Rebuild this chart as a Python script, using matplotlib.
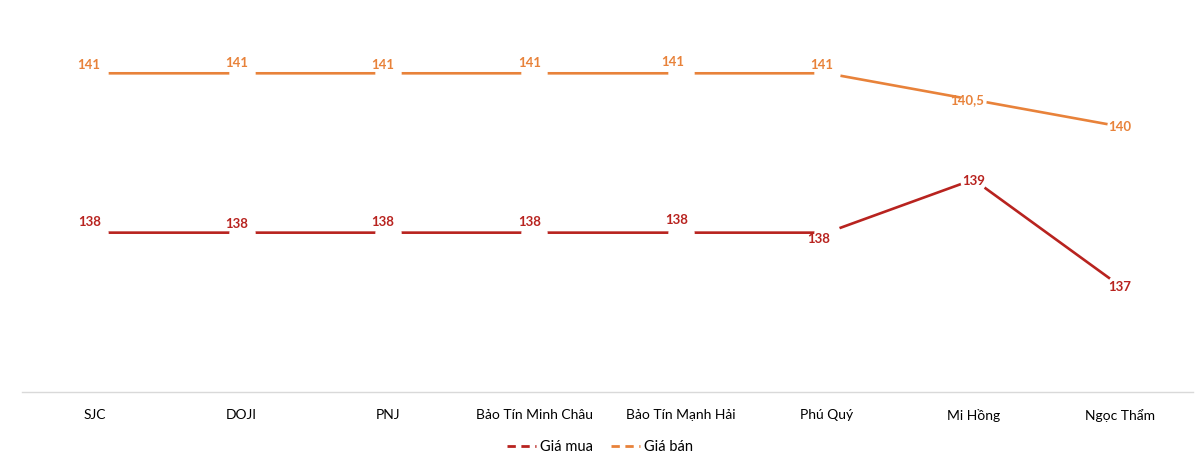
import numpy as np
import matplotlib.pyplot as plt

plt.rcParams['font.family'] = ['Lato', 'Noto Sans', 'DejaVu Sans']

# số liệu
categories = ["SJC", "DOJI", "PNJ", "Bảo Tín Minh Châu", "Bảo Tín Mạnh Hải",
              "Phú Quý", "Mi Hồng", "Ngọc Thẩm"]
gia_mua = [138, 138, 138, 138, 138, 138, 139, 137]
gia_ban = [141, 141, 141, 141, 141, 141, 140.5, 140]
label_mua = ["138", "138", "138", "138", "138", "138", "139", "137"]
label_ban = ["141", "141", "141", "141", "141", "141", "140,5", "140"]

# vị trí nhãn (điểm ảnh, lệch so với điểm)
off_mua = [(-6, 11), (-5, 9), (-5, 11), (-5, 11), (-4, 13), (-8, -6), (0, -1), (0, -1)]
off_ban = [(-6, 8), (-5, 10), (-5, 8), (-5, 10), (-8, 11), (-5, 8), (-6, 0), (0, -1)]

c_mua = "#B8231F"
c_ban = "#E8823A"

fig = plt.figure(figsize=(12, 4.61), dpi=100)
ax = fig.add_axes([22 / 1200, 69 / 461, 1171 / 1200, 392 / 461])

x = np.arange(len(categories))

for vals, labs, offs, col, name in [(gia_mua, label_mua, off_mua, c_mua, "Giá mua"),
                                    (gia_ban, label_ban, off_ban, c_ban, "Giá bán")]:
    ax.plot(x, vals, color=col, lw=1.9, zorder=2, solid_capstyle="butt")
    # marker trắng che đường như Excel
    ax.plot(x, vals, ls="none", marker="o", ms=19, mfc="white", mec="none", zorder=3)
    for xi, v, t, (dx, dy) in zip(x, vals, labs, offs):
        ax.annotate(t, (xi, v), xytext=(dx * 0.72, dy * 0.72), textcoords="offset points",
                    ha="center", va="center", fontsize=9.5, fontweight="bold",
                    color=col, zorder=4)
    ax.plot([], [], color=col, lw=2, ls=(0, (3, 2)), label=name)

ax.set_xlim(-0.5, len(categories) - 0.5)
ax.set_ylim(135, 142.38)
ax.set_xticks(x)
ax.set_xticklabels(categories, fontsize=10)
ax.tick_params(axis="x", length=0, pad=12)
ax.set_yticks([])
for s in ["top", "left", "right"]:
    ax.spines[s].set_visible(False)
ax.spines["bottom"].set_color("#D9D9D9")
ax.spines["bottom"].set_linewidth(1)

fig.legend(loc="center", bbox_to_anchor=(600 / 1200, 1 - 447 / 461), ncol=2,
           frameon=False, fontsize=10.5, handlelength=2, handletextpad=0.3,
           columnspacing=1.2)

plt.savefig("out.png", dpi=100)
